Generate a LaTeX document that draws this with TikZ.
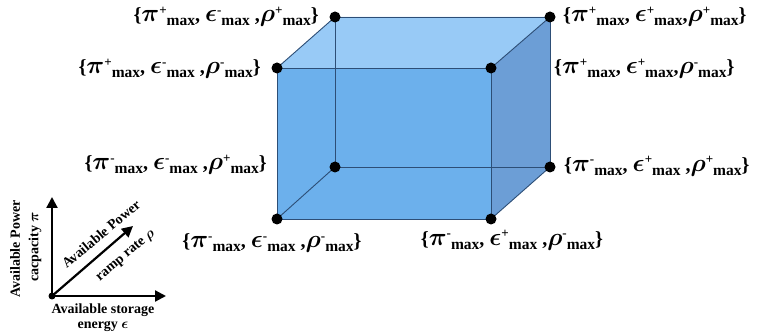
\documentclass[tikz,border=0pt]{standalone}
\usepackage{amsmath,bm}
\usepackage{fontspec}
\setmainfont{Liberation Serif}
\usetikzlibrary{arrows.meta}
\definecolor{frontc}{RGB}{108,176,236}
\definecolor{topc}{RGB}{152,202,246}
\definecolor{rightc}{RGB}{108,158,214}
\definecolor{edgec}{RGB}{45,78,118}
\newcommand\gsym[2]{{\fontsize{24}{24}\selectfont$\bm{#1}$}\raisebox{7.5pt}{\fontsize{13}{13}\selectfont #2}\raisebox{-4pt}{\fontsize{15.5}{15.5}\selectfont max}}
\newcommand\vlab[3]{\{\gsym{\pi}{#1}, \gsym{\epsilon}{#2} ,\gsym{\rho}{#3}\}}
\newcommand\vlabb[3]{\{\gsym{\pi}{#1}, \gsym{\epsilon}{#2},\gsym{\rho}{#3}\}}
\begin{document}
\begin{tikzpicture}[x=1pt,y=-1pt,
  edge/.style={draw=edgec,line width=0.9pt},
  vdot/.style={circle,fill=black,inner sep=0pt,minimum size=11pt},
  vtext/.style={font=\fontsize{20}{22}\selectfont\bfseries,inner sep=1pt},
  axlab/.style={font=\fontsize{14}{15}\selectfont\bfseries,inner sep=1pt,align=center},
  axarrow/.style={line width=2.2pt,-{Triangle[length=11pt,width=11pt]}}]
\useasboundingbox (0,0) rectangle (758,336);
% corners
\coordinate (ftl) at (277,68);
\coordinate (ftr) at (491,68);
\coordinate (fbl) at (277,219);
\coordinate (fbr) at (491,219);
\coordinate (btl) at (335,17);
\coordinate (btr) at (550,17);
\coordinate (bbl) at (335,167);
\coordinate (bbr) at (550,167);
% faces
\fill[frontc] (ftl) -- (ftr) -- (fbr) -- (fbl) -- cycle;
\fill[topc] (ftl) -- (btl) -- (btr) -- (ftr) -- cycle;
\fill[rightc] (ftr) -- (btr) -- (bbr) -- (fbr) -- cycle;
% edges
\draw[edge] (ftl) -- (ftr) -- (fbr) -- (fbl) -- cycle;
\draw[edge] (btl) -- (btr) -- (bbr) -- (bbl) -- cycle;
\draw[edge] (ftl) -- (btl);
\draw[edge] (ftr) -- (btr);
\draw[edge] (fbl) -- (bbl);
\draw[edge] (fbr) -- (bbr);
% dots
\foreach \c in {ftl,ftr,fbl,fbr,btl,btr,bbl,bbr} \node[vdot] (d\c) at (\c) {};
% labels
\node[vtext,anchor=east] (lbtl) at (320,17) {\vlab{+}{-}{+}};
\node[vtext,anchor=east] (lftl) at (262,69) {\vlab{+}{-}{-}};
\node[vtext,anchor=west] (lbtr) at (562,17) {\vlabb{+}{+}{+}};
\node[vtext,anchor=west] (lftr) at (553,69) {\vlabb{+}{+}{-}};
\node[vtext,anchor=east] (lbbl) at (268,165) {\vlab{-}{-}{+}};
\node[vtext,anchor=west] (lbbr) at (563,166) {\vlab{-}{+}{+}};
\node[vtext] (lfbl) at (272,243) {\vlab{-}{-}{-}};
\node[vtext] (lfbr) at (512,240) {\vlab{-}{+}{-}};
% axes
\coordinate (o) at (52,296);
\coordinate (ya) at (52,197);
\coordinate (xa) at (166,296);
\coordinate (da) at (133,226);
\draw[axarrow] (o) -- (ya);
\draw[axarrow] (o) -- (xa);
\draw[axarrow] (o) -- (da);
\node[circle,fill=black,inner sep=0pt,minimum size=7pt] (od) at (o) {};
\node[axlab,rotate=90] (ap) at (15,249) {Available Power};
\node[axlab,rotate=90] (cp) at (35,247) {cacpacity $\bm{\pi}$};
\node[axlab] (as) at (103,310) {Available storage};
\node[axlab] (en) at (103,326) {energy $\bm{\epsilon}$};
\node[axlab,rotate=40] (dp) at (101,234) {Available Power};
\node[axlab,rotate=40] (rr) at (126,256) {ramp rate $\bm{\rho}$};
\end{tikzpicture}
\end{document}
